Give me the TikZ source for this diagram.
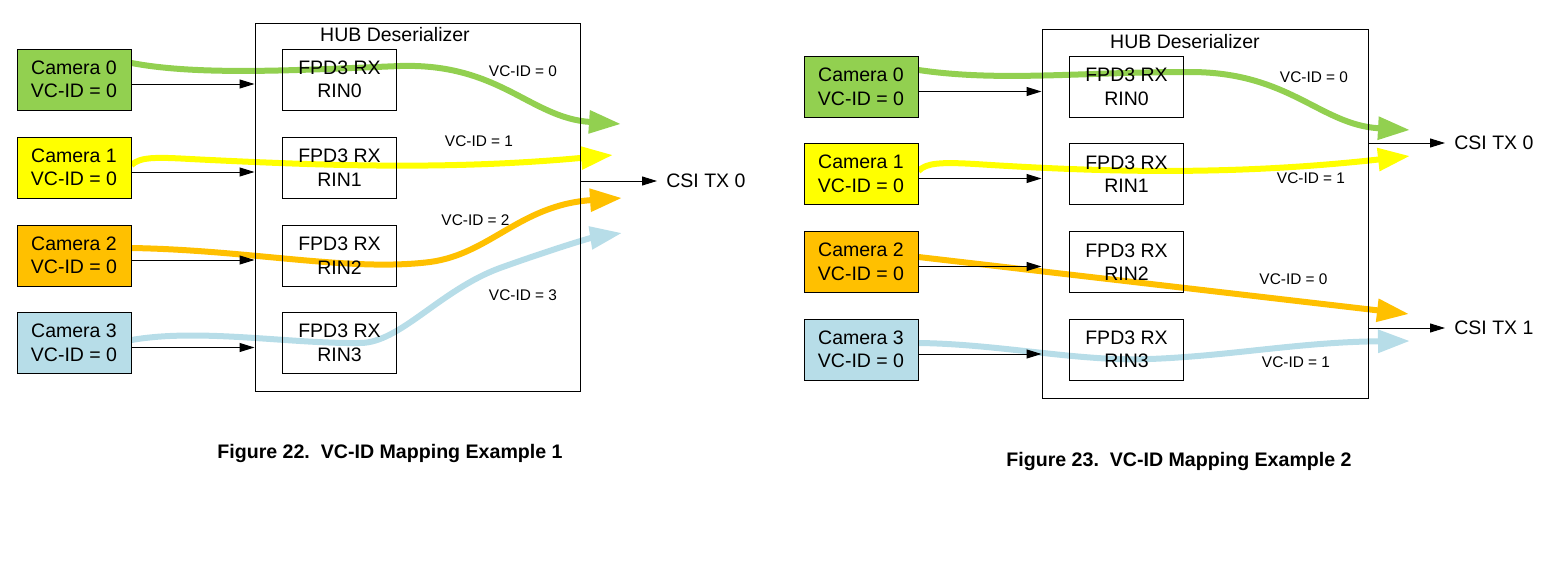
\documentclass[tikz,border=0pt]{standalone}
\usepackage{fontspec}
\setmainfont{Liberation Sans}
\usetikzlibrary{arrows.meta,backgrounds}
\definecolor{camgreen}{HTML}{92D050}
\definecolor{camyellow}{HTML}{FFFF00}
\definecolor{camorange}{HTML}{FFC000}
\definecolor{camblue}{HTML}{B7DDE8}
\begin{document}
\begin{tikzpicture}[x=0.5pt,y=-0.5pt,
  cam/.style={draw,line width=0.5pt,minimum width=57pt,minimum height=30.5pt,inner sep=0pt,align=center,font=\fontsize{9.75}{11.75}\selectfont},
  hub/.style={draw,line width=0.5pt,inner sep=0pt},
  lbl/.style={font=\fontsize{9.75}{11.75}\selectfont,inner sep=0pt},
  vc/.style={font=\fontsize{7.7}{9}\selectfont,inner sep=0pt},
  wire/.style={line width=0.5pt,-{Triangle[length=7.5pt,width=4.5pt]}},
  flow/.style={line width=3pt,-{Triangle[length=16pt,width=11pt]}},
  figcap/.style={font=\bfseries\fontsize{9.8}{12}\selectfont,inner sep=0pt}]
\useasboundingbox (0,0) rectangle (1560,562);

% Figure 22
\node[hub,minimum width=162.5pt,minimum height=184pt] (huba) at (417.5,207) {};
\node[lbl] (titlea) at (395,35) {HUB Deserializer};
\node[cam,fill=camgreen] (cama0) at (74,79.5) {Camera 0\\VC-ID = 0};
\node[cam,fill=camyellow] (cama1) at (74,167.5) {Camera 1\\VC-ID = 0};
\node[cam,fill=camorange] (cama2) at (74,255.5) {Camera 2\\VC-ID = 0};
\node[cam,fill=camblue] (cama3) at (74,343) {Camera 3\\VC-ID = 0};
\node[cam] (rxa0) at (339.5,79.5) {FPD3 RX\\RIN0};
\node[cam] (rxa1) at (339.5,167.5) {FPD3 RX\\RIN1};
\node[cam] (rxa2) at (339.5,255.5) {FPD3 RX\\RIN2};
\node[cam] (rxa3) at (339.5,343) {FPD3 RX\\RIN3};
\foreach \i in {0,...,3} {
  \path (cama\i.east) ++(0,4.5) coordinate (ina\i);
  \draw[wire] (ina\i) -- (ina\i -| huba.west);
}
\node[lbl,anchor=west] (csia0) at (666,181) {CSI TX 0};
\draw[wire] (huba.east |- csia0.west) -- ([xshift=-4.5pt]csia0.west);
\node[vc] (vca0) at (523,71) {VC-ID = 0};
\node[vc] (vca1) at (479,141) {VC-ID = 1};
\node[vc] (vca2) at (475.5,220) {VC-ID = 2};
\node[vc] (vca3) at (523,295) {VC-ID = 3};
\coordinate (tipa0) at (621,124);
\coordinate (tipa1) at (613,155);
\coordinate (tipa2) at (622,198);
\coordinate (tipa3) at (622,233);
\begin{scope}[on background layer]
\draw[flow,camgreen] ([yshift=8.25pt]cama0.east) .. controls (200,76) and (300,70) .. (400,66)
  .. controls (500,63) and (530,118) .. (tipa0);
\draw[flow,camyellow] ([yshift=1.25pt]cama1.east) .. controls (140,157) and (155,157) .. (190,159)
  .. controls (330,166) and (450,170) .. (tipa1);
\draw[flow,camorange] ([yshift=3.75pt]cama2.east) .. controls (250,250) and (350,272) .. (430,262)
  .. controls (490,254) and (520,205) .. (tipa2);
\draw[flow,camblue] ([yshift=1.5pt]cama3.east) .. controls (200,328) and (290,344) .. (360,343)
  .. controls (400,343) and (440,290) .. (500,268) .. controls (550,250) and (590,238) .. (tipa3);
\end{scope}
\node[figcap] (capa) at (390,453) {Figure 22.\ \ VC-ID Mapping Example 1};

% Figure 23
\node[hub,minimum width=163pt,minimum height=184.5pt] (hubb) at (1205,213.5) {};
\node[lbl] (titleb) at (1185,42) {HUB Deserializer};
\node[cam,fill=camgreen] (camb0) at (861,87) {Camera 0\\VC-ID = 0};
\node[cam,fill=camyellow] (camb1) at (861,174) {Camera 1\\VC-ID = 0};
\node[cam,fill=camorange] (camb2) at (861,262) {Camera 2\\VC-ID = 0};
\node[cam,fill=camblue] (camb3) at (861,349.5) {Camera 3\\VC-ID = 0};
\node[cam] (rxb0) at (1126.5,87) {FPD3 RX\\RIN0};
\node[cam] (rxb1) at (1126.5,174) {FPD3 RX\\RIN1};
\node[cam] (rxb2) at (1126.5,262) {FPD3 RX\\RIN2};
\node[cam] (rxb3) at (1126.5,349.5) {FPD3 RX\\RIN3};
\foreach \i in {0,...,3} {
  \path (camb\i.east) ++(0,4.5) coordinate (inb\i);
  \draw[wire] (inb\i) -- (inb\i -| hubb.west);
}
\node[lbl,anchor=west] (csib0) at (1454,143) {CSI TX 0};
\node[lbl,anchor=west] (csib1) at (1454,328) {CSI TX 1};
\draw[wire] (hubb.east |- csib0.west) -- ([xshift=-4.5pt]csib0.west);
\draw[wire] (hubb.east |- csib1.west) -- ([xshift=-4.5pt]csib1.west);
\node[vc] (vcb0) at (1314,77) {VC-ID = 0};
\node[vc] (vcb1) at (1311,178) {VC-ID = 1};
\node[vc] (vcb2) at (1293.5,279) {VC-ID = 0};
\node[vc] (vcb3) at (1296,362) {VC-ID = 1};
\coordinate (tipb0) at (1410,130);
\coordinate (tipb1) at (1410,156);
\coordinate (tipb2) at (1409,314);
\coordinate (tipb3) at (1410,341);
\begin{scope}[on background layer]
\draw[flow,camgreen] ([yshift=8.5pt]camb0.east) .. controls (1000,82) and (1080,72) .. (1190,72)
  .. controls (1290,72) and (1320,125) .. (tipb0);
\draw[flow,camyellow] ([yshift=1.5pt]camb1.east) .. controls (926,163) and (940,162) .. (975,164)
  .. controls (1100,172) and (1230,176) .. (tipb1);
\draw[flow,camorange] ([yshift=2.5pt]camb2.east) -- (tipb2);
\draw[flow,camblue] ([yshift=3.25pt]camb3.east) .. controls (1000,344) and (1080,362) .. (1150,359)
  .. controls (1230,356) and (1300,342) .. (tipb3);
\end{scope}
\node[figcap] (capb) at (1179,461) {Figure 23.\ \ VC-ID Mapping Example 2};
\end{tikzpicture}
\end{document}
